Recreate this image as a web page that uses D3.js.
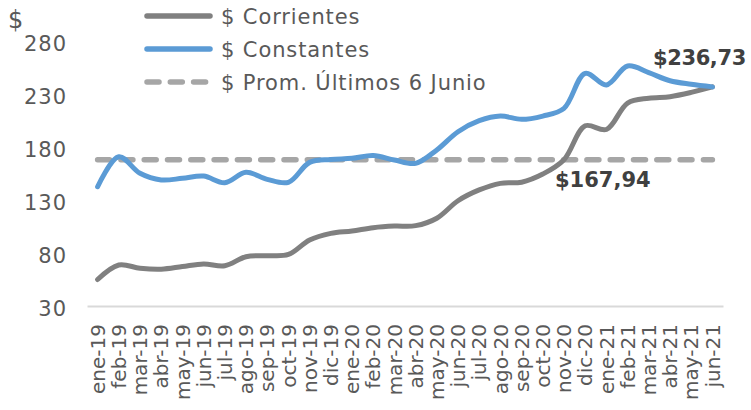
<!DOCTYPE html>
<html lang="es">
  <head>
    <meta charset="UTF-8" />
    <title>$ Corrientes vs $ Constantes</title>
    <style>
      body { margin: 0; background: #fff; }
      svg text { font-family: 'DejaVu Sans', sans-serif; fill: #595959; }
    </style>
  </head>
  <body>
    <svg id="chart"></svg>
    <script src="https://d3js.org/d3.v7.min.js"></script>
    <script>
      // meses ene-19 .. jun-21
      const categories = [
        'ene-19', 'feb-19', 'mar-19', 'abr-19', 'may-19', 'jun-19',
        'jul-19', 'ago-19', 'sep-19', 'oct-19', 'nov-19', 'dic-19',
        'ene-20', 'feb-20', 'mar-20', 'abr-20', 'may-20', 'jun-20',
        'jul-20', 'ago-20', 'sep-20', 'oct-20', 'nov-20', 'dic-20',
        'ene-21', 'feb-21', 'mar-21', 'abr-21', 'may-21', 'jun-21',
      ];
      const corrientes = [
        55, 68.7, 65.6, 64.7, 67.2, 69.7, 68, 76.5, 77.4, 78.6, 92.3, 98.5,
        100.8, 103.9, 105.4, 105.8, 112.8, 129.3, 139.5, 145.7, 146.8, 154.5,
        168, 200, 196.5, 221.5, 226, 227.5, 231.5, 236.73,
      ];
      const constantes = [
        142.5, 170.8, 155.2, 148.9, 150.5, 152.6, 146.3, 156.1, 149.5, 146.7,
        165.5, 168.2, 169.3, 172, 167.7, 164.6, 177.2, 194.4, 204.8, 209.2,
        206.1, 209.2, 216.5, 249.5, 238.5, 256.4, 250.1, 242.5, 239.2, 236.73,
      ];
      const promedio = 167.94;
      const yTicks = [30, 80, 130, 180, 230, 280];

      const width = 751;
      const height = 410;
      const svg = d3.select('#chart').attr('width', width).attr('height', height);

      const x = d3.scaleBand().domain(categories).range([87, 723]).padding(0);
      const cx = (d) => x(d) + x.bandwidth() / 2;
      const y = d3.scaleLinear().domain([30, 280]).range([306, 41]);

      // eje y (solo etiquetas)
      const axisY = svg
        .append('g')
        .attr('transform', 'translate(67,0)')
        .call(d3.axisLeft(y).tickValues(yTicks).tickSize(0).tickPadding(0));
      axisY.select('.domain').remove();
      axisY
        .selectAll('text')
        .style('font-size', '21px')
        .style('letter-spacing', '1px')
        .attr('fill', '#595959')
        .attr('dy', '0.45em');

      svg
        .append('text')
        .attr('x', 8)
        .attr('y', 28)
        .style('font-size', '24px')
        .text('$');

      // eje x
      const axisX = svg
        .append('g')
        .attr('transform', 'translate(0,306)')
        .call(d3.axisBottom(x).tickSize(0));
      axisX.select('.domain').attr('stroke', '#d9d9d9').attr('stroke-width', 2);
      axisX
        .selectAll('text')
        .style('font-size', '20px')
        .attr('fill', '#595959')
        .attr('text-anchor', 'end')
        .attr('transform', 'rotate(-90)')
        .attr('x', -18)
        .attr('y', 0)
        .attr('dy', '0.36em');

      const line = (values) =>
        d3
          .line()
          .x((d, i) => cx(categories[i]))
          .y((d) => y(d))
          .curve(d3.curveCatmullRom.alpha(0.5))(values);

      // promedio
      svg
        .append('path')
        .attr('d', line(categories.map(() => promedio)))
        .attr('fill', 'none')
        .attr('stroke', '#a6a6a6')
        .attr('stroke-width', 5.5)
        .attr('stroke-linecap', 'round')
        .attr('stroke-dasharray', '12 11.3');

      svg
        .append('path')
        .attr('d', line(corrientes))
        .attr('fill', 'none')
        .attr('stroke', '#808080')
        .attr('stroke-width', 5)
        .attr('stroke-linecap', 'round');

      svg
        .append('path')
        .attr('d', line(constantes))
        .attr('fill', 'none')
        .attr('stroke', '#5b9bd5')
        .attr('stroke-width', 5)
        .attr('stroke-linecap', 'round');

      // etiquetas de valor
      const fmt = (v) => '$' + v.toFixed(2).replace('.', ',');
      svg
        .append('text')
        .attr('x', 653)
        .attr('y', 65)
        .style('font-size', '21px')
        .style('letter-spacing', '-0.4px')
        .style('font-weight', 'bold')
        .style('fill', '#404040')
        .text(fmt(constantes[constantes.length - 1]));
      svg
        .append('text')
        .attr('x', 555)
        .attr('y', 187)
        .style('font-size', '21px')
        .style('font-weight', 'bold')
        .style('fill', '#404040')
        .text(fmt(promedio));

      // leyenda
      const legend = [
        { name: '$ Corrientes', color: '#808080', dash: null },
        { name: '$ Constantes', color: '#5b9bd5', dash: null },
        { name: '$ Prom. Últimos 6 Junio', color: '#a6a6a6', dash: '12 11.3' },
      ];
      const lg = svg
        .selectAll('.legend')
        .data(legend)
        .enter()
        .append('g')
        .attr('transform', (d, i) => `translate(0,${16 + i * 33})`);
      lg.append('line')
        .attr('x1', 147)
        .attr('x2', 210)
        .attr('stroke', (d) => d.color)
        .attr('stroke-width', 5.5)
        .attr('stroke-linecap', 'round')
        .attr('stroke-dasharray', (d) => d.dash);
      lg.append('text')
        .attr('x', 221)
        .attr('y', 8)
        .style('font-size', '21px')
        .style('letter-spacing', '0.9px')
        .text((d) => d.name);
    </script>
  </body>
</html>
